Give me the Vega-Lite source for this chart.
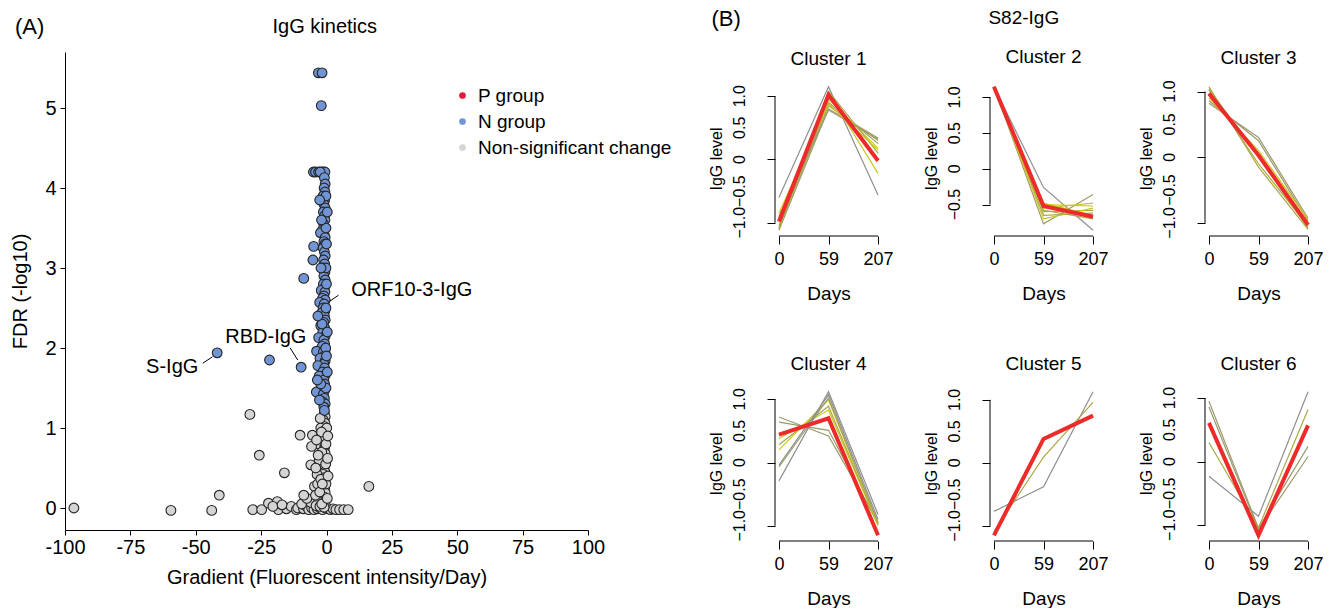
{
  "$schema": "https://vega.github.io/schema/vega-lite/v6.json",
  "background": "white",
  "padding": {"left": 10, "top": 7, "right": 0, "bottom": 0},
  "config": {
    "font": "Liberation Sans",
    "view": {"stroke": null},
    "axis": {"grid": false, "labelOverlap": false, "domainColor": "black", "tickColor": "black", "labelColor": "black", "titleColor": "black", "titleFontWeight": "normal", "labelFont": "Liberation Sans", "titleFont": "Liberation Sans"},
    "title": {"fontWeight": "normal", "color": "black", "font": "Liberation Sans"},
    "legend": {"labelFont": "Liberation Sans"}
  },
  "resolve": {"scale": {"color": "independent"}, "legend": {"color": "independent"}},
  "datasets": {
    "pts": [
      {"x": -96.6, "y": 0.0, "g": "U"}, {"x": -59.5, "y": -0.03, "g": "U"}, {"x": -43.9, "y": -0.03, "g": "U"}, {"x": -41, "y": 0.16, "g": "U"},
      {"x": -29.3, "y": 1.17, "g": "U"}, {"x": -25.7, "y": 0.66, "g": "U"}, {"x": -16.1, "y": 0.44, "g": "U"}, {"x": -10.1, "y": 0.91, "g": "U"},
      {"x": 16.2, "y": 0.27, "g": "U"}, {"x": -28.2, "y": -0.02, "g": "U"}, {"x": -24.8, "y": -0.02, "g": "U"}, {"x": -22.2, "y": 0.06, "g": "U"},
      {"x": -18.8, "y": 0.08, "g": "U"}, {"x": -18.4, "y": -0.02, "g": "U"}, {"x": -15.3, "y": -0.01, "g": "U"}, {"x": -13.5, "y": 0.02, "g": "U"},
      {"x": -11.5, "y": -0.02, "g": "U"}, {"x": -11, "y": 0.0, "g": "U"}, {"x": -8.8, "y": -0.01, "g": "U"}, {"x": -8, "y": 0.03, "g": "U"},
      {"x": -6.8, "y": -0.02, "g": "U"}, {"x": -5.7, "y": 0.0, "g": "U"}, {"x": -4.8, "y": -0.02, "g": "U"}, {"x": -3.5, "y": -0.01, "g": "U"},
      {"x": -2.5, "y": 0.0, "g": "U"}, {"x": -1.5, "y": -0.02, "g": "U"}, {"x": -0.4, "y": 0.0, "g": "U"}, {"x": 0.5, "y": -0.01, "g": "U"},
      {"x": 1.5, "y": -0.02, "g": "U"}, {"x": 2.5, "y": -0.01, "g": "U"}, {"x": 3.6, "y": -0.02, "g": "U"}, {"x": 5.0, "y": -0.02, "g": "U"},
      {"x": 6.6, "y": -0.02, "g": "U"}, {"x": 8.3, "y": -0.02, "g": "U"}, {"x": -20.5, "y": 0.02, "g": "U"}, {"x": -17, "y": 0.04, "g": "U"},
      {"x": -9.5, "y": 0.05, "g": "U"}, {"x": -6, "y": 0.07, "g": "U"}, {"x": -7.5, "y": 0.12, "g": "U"}, {"x": -8.7, "y": 0.16, "g": "U"},
      {"x": -4.6, "y": 0.27, "g": "U"},
      {"x": -0.8, "y": 1.18, "g": "U"}, {"x": -0.5, "y": 1.14, "g": "U"}, {"x": -1.2, "y": 1.1, "g": "U"}, {"x": -0.6, "y": 1.06, "g": "U"},
      {"x": -1.0, "y": 1.02, "g": "U"}, {"x": -2.2, "y": 1.0, "g": "U"}, {"x": -0.5, "y": 0.97, "g": "U"}, {"x": -0.9, "y": 0.94, "g": "U"},
      {"x": -5.4, "y": 0.91, "g": "U"}, {"x": -1.4, "y": 0.9, "g": "U"}, {"x": -0.6, "y": 0.86, "g": "U"}, {"x": -1.1, "y": 0.82, "g": "U"},
      {"x": -3.0, "y": 0.8, "g": "U"}, {"x": -5.7, "y": 0.77, "g": "U"}, {"x": -0.7, "y": 0.76, "g": "U"}, {"x": -1.0, "y": 0.72, "g": "U"},
      {"x": -0.5, "y": 0.68, "g": "U"}, {"x": -1.6, "y": 0.65, "g": "U"}, {"x": -0.8, "y": 0.62, "g": "U"}, {"x": -1.2, "y": 0.58, "g": "U"},
      {"x": -0.5, "y": 0.55, "g": "U"}, {"x": -6.0, "y": 0.54, "g": "U"}, {"x": -0.9, "y": 0.5, "g": "U"}, {"x": -2.5, "y": 0.48, "g": "U"},
      {"x": -0.6, "y": 0.45, "g": "U"}, {"x": -1.3, "y": 0.42, "g": "U"}, {"x": -0.8, "y": 0.38, "g": "U"}, {"x": -0.5, "y": 0.35, "g": "U"},
      {"x": -1.0, "y": 0.32, "g": "U"}, {"x": -3.4, "y": 0.3, "g": "U"}, {"x": -0.7, "y": 0.24, "g": "U"}, {"x": -1.5, "y": 0.22, "g": "U"},
      {"x": -0.5, "y": 0.19, "g": "U"}, {"x": -1.0, "y": 0.14, "g": "U"}, {"x": -2.0, "y": 0.12, "g": "U"}, {"x": -0.7, "y": 0.1, "g": "U"},
      {"x": -3.0, "y": 0.08, "g": "U"}, {"x": -1.2, "y": 0.06, "g": "U"}, {"x": -0.5, "y": 0.04, "g": "U"}, {"x": -4.0, "y": 0.03, "g": "U"},
      {"x": -2.5, "y": 0.02, "g": "U"}, {"x": -0.9, "y": 0.01, "g": "U"}, {"x": -2.0, "y": 0.88, "g": "U"}, {"x": -1.8, "y": 0.7, "g": "U"},
      {"x": -2.8, "y": 0.6, "g": "U"}, {"x": -3.6, "y": 0.42, "g": "U"}, {"x": -2.2, "y": 0.36, "g": "U"}, {"x": -4.2, "y": 0.16, "g": "U"},
      {"x": -1.8, "y": 0.05, "g": "U"}, {"x": -0.2, "y": 0.3, "g": "U"}, {"x": 0.3, "y": 0.12, "g": "U"}, {"x": -0.2, "y": 0.8, "g": "U"},
      {"x": 0.1, "y": 1.0, "g": "U"}, {"x": -0.3, "y": 0.55, "g": "U"}, {"x": -2.6, "y": 0.2, "g": "U"}, {"x": -1.9, "y": 0.95, "g": "U"},
      {"x": -3.2, "y": 0.66, "g": "U"}, {"x": -4.1, "y": 0.5, "g": "U"}, {"x": -3.8, "y": 0.85, "g": "U"}, {"x": 0.4, "y": 0.62, "g": "U"},
      {"x": 0.5, "y": 0.9, "g": "U"}, {"x": 0.6, "y": 0.4, "g": "U"}, {"x": -2.4, "y": 1.12, "g": "U"}, {"x": -1.6, "y": 0.3, "g": "U"},
      {"x": -41.8, "y": 1.94, "g": "N"}, {"x": -21.8, "y": 1.85, "g": "N"}, {"x": -9.7, "y": 1.76, "g": "N"},
      {"x": -3.1, "y": 5.44, "g": "N"}, {"x": -1.7, "y": 5.44, "g": "N"}, {"x": -2.0, "y": 5.03, "g": "N"},
      {"x": -5.0, "y": 4.2, "g": "N"}, {"x": -4.2, "y": 4.2, "g": "N"}, {"x": -3.0, "y": 4.2, "g": "N"}, {"x": -1.8, "y": 4.2, "g": "N"},
      {"x": -1.2, "y": 4.2, "g": "N"}, {"x": -0.6, "y": 4.2, "g": "N"}, {"x": -2.4, "y": 4.2, "g": "N"},
      {"x": -0.8, "y": 4.13, "g": "N"}, {"x": -0.5, "y": 4.05, "g": "N"}, {"x": -0.9, "y": 4.0, "g": "N"}, {"x": -0.6, "y": 3.95, "g": "N"},
      {"x": -1.3, "y": 3.9, "g": "N"}, {"x": -0.7, "y": 3.85, "g": "N"}, {"x": -1.0, "y": 3.8, "g": "N"}, {"x": -0.5, "y": 3.75, "g": "N"},
      {"x": -1.2, "y": 3.7, "g": "N"}, {"x": -0.8, "y": 3.65, "g": "N"}, {"x": -0.6, "y": 3.6, "g": "N"}, {"x": -1.1, "y": 3.55, "g": "N"},
      {"x": -0.7, "y": 3.5, "g": "N"}, {"x": -1.6, "y": 3.47, "g": "N"}, {"x": -0.9, "y": 3.42, "g": "N"}, {"x": -2.3, "y": 3.44, "g": "N"},
      {"x": -0.5, "y": 3.38, "g": "N"}, {"x": -1.0, "y": 3.33, "g": "N"}, {"x": -4.9, "y": 3.27, "g": "N"}, {"x": -0.6, "y": 3.3, "g": "N"},
      {"x": -1.3, "y": 3.25, "g": "N"}, {"x": -0.8, "y": 3.2, "g": "N"}, {"x": -0.5, "y": 3.15, "g": "N"}, {"x": -5.2, "y": 3.1, "g": "N"},
      {"x": -1.1, "y": 3.1, "g": "N"}, {"x": -0.7, "y": 3.05, "g": "N"}, {"x": -1.4, "y": 3.0, "g": "N"}, {"x": -0.6, "y": 2.95, "g": "N"},
      {"x": -1.0, "y": 2.9, "g": "N"}, {"x": -8.7, "y": 2.87, "g": "N"}, {"x": -0.5, "y": 2.85, "g": "N"}, {"x": -1.2, "y": 2.8, "g": "N"},
      {"x": -0.8, "y": 2.75, "g": "N"}, {"x": -2.0, "y": 2.72, "g": "N"}, {"x": -0.6, "y": 2.7, "g": "N"}, {"x": -1.0, "y": 2.65, "g": "N"},
      {"x": -1.5, "y": 2.62, "g": "N"}, {"x": -0.5, "y": 2.6, "g": "N"}, {"x": -2.6, "y": 2.57, "g": "N"}, {"x": -0.9, "y": 2.55, "g": "N"},
      {"x": -1.3, "y": 2.5, "g": "N"}, {"x": -0.6, "y": 2.47, "g": "N"}, {"x": -1.8, "y": 2.44, "g": "N"}, {"x": -0.8, "y": 2.4, "g": "N"},
      {"x": -0.5, "y": 2.35, "g": "N"}, {"x": -1.1, "y": 2.32, "g": "N"}, {"x": -2.2, "y": 2.28, "g": "N"}, {"x": -0.7, "y": 2.25, "g": "N"},
      {"x": -1.4, "y": 2.2, "g": "N"}, {"x": -0.5, "y": 2.15, "g": "N"}, {"x": -3.0, "y": 2.13, "g": "N"}, {"x": -1.0, "y": 2.1, "g": "N"},
      {"x": -0.7, "y": 2.05, "g": "N"}, {"x": -1.6, "y": 2.02, "g": "N"}, {"x": -0.5, "y": 1.98, "g": "N"}, {"x": -3.8, "y": 1.96, "g": "N"},
      {"x": -1.2, "y": 1.95, "g": "N"}, {"x": -0.8, "y": 1.9, "g": "N"}, {"x": -2.5, "y": 1.87, "g": "N"}, {"x": -0.5, "y": 1.84, "g": "N"},
      {"x": -1.0, "y": 1.8, "g": "N"}, {"x": -3.3, "y": 1.78, "g": "N"}, {"x": -0.7, "y": 1.75, "g": "N"}, {"x": -1.5, "y": 1.7, "g": "N"},
      {"x": -0.5, "y": 1.66, "g": "N"}, {"x": -2.8, "y": 1.65, "g": "N"}, {"x": -1.0, "y": 1.6, "g": "N"}, {"x": -0.7, "y": 1.55, "g": "N"},
      {"x": -1.9, "y": 1.52, "g": "N"}, {"x": -3.9, "y": 1.45, "g": "N"}, {"x": -0.6, "y": 1.48, "g": "N"}, {"x": -1.2, "y": 1.42, "g": "N"},
      {"x": -0.8, "y": 1.37, "g": "N"}, {"x": -1.6, "y": 1.33, "g": "N"}, {"x": -0.5, "y": 1.3, "g": "N"}, {"x": -1.0, "y": 1.26, "g": "N"},
      {"x": -0.8, "y": 1.22, "g": "N"}, {"x": -0.2, "y": 3.9, "g": "N"}, {"x": -0.2, "y": 3.5, "g": "N"}, {"x": -0.2, "y": 3.0, "g": "N"},
      {"x": -0.2, "y": 2.5, "g": "N"}, {"x": -0.3, "y": 2.0, "g": "N"}, {"x": -0.2, "y": 1.5, "g": "N"}, {"x": 0.0, "y": 2.8, "g": "N"},
      {"x": 0.0, "y": 3.3, "g": "N"}, {"x": 0.0, "y": 1.9, "g": "N"}, {"x": -1.9, "y": 3.6, "g": "N"}, {"x": -2.1, "y": 3.0, "g": "N"},
      {"x": -1.7, "y": 2.3, "g": "N"}, {"x": -2.2, "y": 1.55, "g": "N"}, {"x": -2.7, "y": 1.35, "g": "N"},
      {"x": 0.3, "y": 3.7, "g": "N"}, {"x": 0.3, "y": 2.2, "g": "N"}, {"x": 0.3, "y": 1.7, "g": "N"}, {"x": -2.6, "y": 3.85, "g": "N"},
      {"x": -3.3, "y": 2.4, "g": "N"}, {"x": -3.5, "y": 1.6, "g": "N"}
    ],
    "labels": [
      {"name": "S-IgG", "x": -59, "y": 1.76},
      {"name": "RBD-IgG", "x": -23.2, "y": 2.14},
      {"name": "ORF10-3-IgG", "x": 32.6, "y": 2.72}
    ],
    "leaders": [
      {"x": -47.3, "y": 1.81, "x2": -43.6, "y2": 1.89},
      {"x": -13.9, "y": 2.0, "x2": -11.0, "y2": 1.85},
      {"x": 4.6, "y": 2.66, "x2": 1.0, "y2": 2.58}
    ],
    "yticks": [
      {"v": -1, "lab": "−1.0"}, {"v": -0.5, "lab": "−0.5"}, {"v": 0, "lab": "0"}, {"v": 0.5, "lab": "0.5"}, {"v": 1, "lab": "1.0"}
    ],
    "lines": [
      {"c":1,"id":1,"m":"a","t":1,"v":-0.60},{"c":1,"id":1,"m":"a","t":2,"v":1.15},{"c":1,"id":1,"m":"a","t":3,"v":-0.56},
      {"c":1,"id":2,"m":"b","t":1,"v":-1.12},{"c":1,"id":2,"m":"b","t":2,"v":0.80},{"c":1,"id":2,"m":"b","t":3,"v":0.34},
      {"c":1,"id":3,"m":"c","t":1,"v":-1.08},{"c":1,"id":3,"m":"c","t":2,"v":0.85},{"c":1,"id":3,"m":"c","t":3,"v":0.30},
      {"c":1,"id":4,"m":"b","t":1,"v":-1.05},{"c":1,"id":4,"m":"b","t":2,"v":0.90},{"c":1,"id":4,"m":"b","t":3,"v":0.25},
      {"c":1,"id":5,"m":"d","t":1,"v":-1.00},{"c":1,"id":5,"m":"d","t":2,"v":0.95},{"c":1,"id":5,"m":"d","t":3,"v":0.18},
      {"c":1,"id":6,"m":"d","t":1,"v":-0.95},{"c":1,"id":6,"m":"d","t":2,"v":1.05},{"c":1,"id":6,"m":"d","t":3,"v":-0.22},
      {"c":1,"id":7,"m":"b","t":1,"v":-0.90},{"c":1,"id":7,"m":"b","t":2,"v":0.78},{"c":1,"id":7,"m":"b","t":3,"v":0.32},
      {"c":1,"id":8,"m":"c","t":1,"v":-1.10},{"c":1,"id":8,"m":"c","t":2,"v":1.08},{"c":1,"id":8,"m":"c","t":3,"v":0.10},
      {"c":1,"id":9,"m":"d","t":1,"v":-0.85},{"c":1,"id":9,"m":"d","t":2,"v":0.88},{"c":1,"id":9,"m":"d","t":3,"v":0.15},
      {"c":2,"id":1,"m":"a","t":1,"v":1.15},{"c":2,"id":1,"m":"a","t":2,"v":-0.26},{"c":2,"id":1,"m":"a","t":3,"v":-0.86},
      {"c":2,"id":2,"m":"b","t":1,"v":1.15},{"c":2,"id":2,"m":"b","t":2,"v":-0.77},{"c":2,"id":2,"m":"b","t":3,"v":-0.36},
      {"c":2,"id":3,"m":"d","t":1,"v":1.14},{"c":2,"id":3,"m":"d","t":2,"v":-0.50},{"c":2,"id":3,"m":"d","t":3,"v":-0.52},
      {"c":2,"id":4,"m":"d","t":1,"v":1.15},{"c":2,"id":4,"m":"d","t":2,"v":-0.55},{"c":2,"id":4,"m":"d","t":3,"v":-0.48},
      {"c":2,"id":5,"m":"c","t":1,"v":1.15},{"c":2,"id":5,"m":"c","t":2,"v":-0.60},{"c":2,"id":5,"m":"c","t":3,"v":-0.58},
      {"c":2,"id":6,"m":"c","t":1,"v":1.14},{"c":2,"id":6,"m":"c","t":2,"v":-0.65},{"c":2,"id":6,"m":"c","t":3,"v":-0.62},
      {"c":2,"id":7,"m":"d","t":1,"v":1.15},{"c":2,"id":7,"m":"d","t":2,"v":-0.70},{"c":2,"id":7,"m":"d","t":3,"v":-0.55},
      {"c":2,"id":8,"m":"c","t":1,"v":1.13},{"c":2,"id":8,"m":"c","t":2,"v":-0.58},{"c":2,"id":8,"m":"c","t":3,"v":-0.70},
      {"c":2,"id":9,"m":"d","t":1,"v":1.15},{"c":2,"id":9,"m":"d","t":2,"v":-0.48},{"c":2,"id":9,"m":"d","t":3,"v":-0.65},
      {"c":3,"id":1,"m":"b","t":1,"v":0.82},{"c":3,"id":1,"m":"b","t":2,"v":0.30},{"c":3,"id":1,"m":"b","t":3,"v":-0.93},
      {"c":3,"id":2,"m":"b","t":1,"v":0.86},{"c":3,"id":2,"m":"b","t":2,"v":0.25},{"c":3,"id":2,"m":"b","t":3,"v":-0.97},
      {"c":3,"id":3,"m":"c","t":1,"v":1.07},{"c":3,"id":3,"m":"c","t":2,"v":-0.15},{"c":3,"id":3,"m":"c","t":3,"v":-1.10},
      {"c":3,"id":4,"m":"c","t":1,"v":1.02},{"c":3,"id":4,"m":"c","t":2,"v":-0.10},{"c":3,"id":4,"m":"c","t":3,"v":-1.05},
      {"c":3,"id":5,"m":"d","t":1,"v":0.95},{"c":3,"id":5,"m":"d","t":2,"v":0.05},{"c":3,"id":5,"m":"d","t":3,"v":-1.00},
      {"c":3,"id":6,"m":"d","t":1,"v":0.90},{"c":3,"id":6,"m":"d","t":2,"v":0.10},{"c":3,"id":6,"m":"d","t":3,"v":-0.95},
      {"c":3,"id":7,"m":"c","t":1,"v":1.04},{"c":3,"id":7,"m":"c","t":2,"v":0.00},{"c":3,"id":7,"m":"c","t":3,"v":-1.08},
      {"c":4,"id":1,"m":"b","t":1,"v":0.72},{"c":4,"id":1,"m":"b","t":2,"v":0.42},{"c":4,"id":1,"m":"b","t":3,"v":-0.95},
      {"c":4,"id":2,"m":"b","t":1,"v":0.64},{"c":4,"id":2,"m":"b","t":2,"v":0.51},{"c":4,"id":2,"m":"b","t":3,"v":-0.97},
      {"c":4,"id":3,"m":"d","t":1,"v":0.38},{"c":4,"id":3,"m":"d","t":2,"v":0.83},{"c":4,"id":3,"m":"d","t":3,"v":-1.00},
      {"c":4,"id":4,"m":"c","t":1,"v":0.28},{"c":4,"id":4,"m":"c","t":2,"v":0.89},{"c":4,"id":4,"m":"c","t":3,"v":-0.98},
      {"c":4,"id":5,"m":"d","t":1,"v":0.20},{"c":4,"id":5,"m":"d","t":2,"v":0.99},{"c":4,"id":5,"m":"d","t":3,"v":-0.97},
      {"c":4,"id":6,"m":"a","t":1,"v":-0.04},{"c":4,"id":6,"m":"a","t":2,"v":1.07},{"c":4,"id":6,"m":"a","t":3,"v":-0.90},
      {"c":4,"id":7,"m":"b","t":1,"v":-0.07},{"c":4,"id":7,"m":"b","t":2,"v":1.02},{"c":4,"id":7,"m":"b","t":3,"v":-0.95},
      {"c":4,"id":8,"m":"a","t":1,"v":-0.29},{"c":4,"id":8,"m":"a","t":2,"v":1.12},{"c":4,"id":8,"m":"a","t":3,"v":-0.82},
      {"c":5,"id":1,"m":"a","t":1,"v":-0.77},{"c":5,"id":1,"m":"a","t":2,"v":-0.38},{"c":5,"id":1,"m":"a","t":3,"v":1.13},
      {"c":5,"id":2,"m":"c","t":1,"v":-1.09},{"c":5,"id":2,"m":"c","t":2,"v":0.09},{"c":5,"id":2,"m":"c","t":3,"v":0.96},
      {"c":6,"id":1,"m":"a","t":1,"v":-0.23},{"c":6,"id":1,"m":"a","t":2,"v":-0.86},{"c":6,"id":1,"m":"a","t":3,"v":1.10},
      {"c":6,"id":2,"m":"b","t":1,"v":0.95},{"c":6,"id":2,"m":"b","t":2,"v":-1.05},{"c":6,"id":2,"m":"b","t":3,"v":0.24},
      {"c":6,"id":3,"m":"b","t":1,"v":0.86},{"c":6,"id":3,"m":"b","t":2,"v":-1.07},{"c":6,"id":3,"m":"b","t":3,"v":0.08},
      {"c":6,"id":4,"m":"c","t":1,"v":0.30},{"c":6,"id":4,"m":"c","t":2,"v":-1.04},{"c":6,"id":4,"m":"c","t":3,"v":0.82}
    ],
    "cent": [
      {"c":1,"t":1,"v":-0.98},{"c":1,"t":2,"v":1.02},{"c":1,"t":3,"v":-0.02},
      {"c":2,"t":1,"v":1.15},{"c":2,"t":2,"v":-0.52},{"c":2,"t":3,"v":-0.67},
      {"c":3,"t":1,"v":0.97},{"c":3,"t":2,"v":0.03},{"c":3,"t":3,"v":-1.03},
      {"c":4,"t":1,"v":0.44},{"c":4,"t":2,"v":0.70},{"c":4,"t":3,"v":-1.15},
      {"c":5,"t":1,"v":-1.15},{"c":5,"t":2,"v":0.38},{"c":5,"t":3,"v":0.75},
      {"c":6,"t":1,"v":0.61},{"c":6,"t":2,"v":-1.16},{"c":6,"t":3,"v":0.57}
    ]
  },
  "hconcat": [
    {
      "title": {"text": "(A)", "anchor": "start", "frame": "bounds", "fontSize": 22, "offset": -22, "dx": 4},
      "hconcat": [
        {
          "title": {"text": "IgG kinetics", "fontSize": 20, "offset": 15, "anchor": "middle", "frame": "bounds", "dx": 17},
          "hconcat": [
            {
              "width": 523,
              "height": 478,
              "layer": [
                {
                  "data": {"name": "pts"},
                  "mark": {"type": "point", "shape": "circle", "filled": true, "stroke": "#262626", "strokeWidth": 1.1, "size": 95, "opacity": 1},
                  "encoding": {
                    "x": {"field": "x", "type": "quantitative", "scale": {"domain": [-100, 100], "nice": false, "zero": false},
                      "axis": {"title": "Gradient (Fluorescent intensity/Day)", "values": [-100, -75, -50, -25, 0, 25, 50, 75, 100], "labelExpr": "datum.value < 0 ? '-' + format(-datum.value, 'd') : format(datum.value, 'd')", "tickSize": 5, "labelPadding": 2, "labelFontSize": 20, "titleFontSize": 20, "titlePadding": 10, "labelFlush": false, "labelOverlap": false}},
                    "y": {"field": "y", "type": "quantitative", "scale": {"domain": [-0.275, 5.7], "nice": false, "zero": false},
                      "axis": {"title": "FDR (-log10)", "values": [0, 1, 2, 3, 4, 5], "format": "d", "tickSize": 5, "labelPadding": 4, "labelFontSize": 20, "titleFontSize": 20, "titlePadding": 14}},
                    "color": {"field": "g", "type": "nominal",
                      "scale": {"domain": ["P", "N", "U"], "range": ["#e41a3a", "#7094d4", "#d4d4d4"]},
                      "legend": {"title": null, "orient": "none", "legendX": 388, "legendY": 34, "padding": 0, "labelFontSize": 19, "labelLimit": 400, "rowPadding": 6, "symbolSize": 45, "symbolType": "circle", "symbolStrokeWidth": 0, "symbolOpacity": 1, "labelOffset": 6,
                        "labelExpr": "datum.value == 'P' ? 'P group' : datum.value == 'N' ? 'N group' : 'Non-significant change'"}}
                  }
                },
                {
                  "data": {"name": "leaders"},
                  "mark": {"type": "rule", "color": "black", "strokeWidth": 1},
                  "encoding": {
                    "x": {"field": "x", "type": "quantitative"},
                    "y": {"field": "y", "type": "quantitative"},
                    "x2": {"field": "x2"},
                    "y2": {"field": "y2"}
                  }
                },
                {
                  "data": {"name": "labels"},
                  "mark": {"type": "text", "fontSize": 20, "color": "black", "font": "Liberation Sans"},
                  "encoding": {
                    "x": {"field": "x", "type": "quantitative"},
                    "y": {"field": "y", "type": "quantitative"},
                    "text": {"field": "name"}
                  }
                }
              ]
            }
          ]
        }
      ]
    },
    {
      "title": {"text": "(B)", "anchor": "start", "frame": "bounds", "fontSize": 22, "offset": -22, "dx": 3},
      "vconcat": [
        {
          "title": {"text": "S82-IgG", "fontSize": 19, "offset": 20, "anchor": "middle", "frame": "bounds", "dx": 8},
          "bounds": "flush",
          "spacing": 28,
          "vconcat": [
            {"width": 537, "height": 1, "data": {"values": [{}]}, "mark": {"type": "rule", "opacity": 0, "strokeOpacity": 0}, "encoding": {}},
            {
              "columns": 3,
              "spacing": {"row": 150, "column": 108},
              "bounds": "flush",
              "concat": [
                {"width": 107, "height": 155, "title": {"text": "Cluster 1", "fontSize": 19, "offset": 12},
                  "layer": [
                    {"data": {"name": "lines"}, "transform": [{"filter": "datum.c == 1"}], "mark": {"type": "line", "strokeWidth": 1.2},
                      "encoding": {
                        "x": {"field": "t", "type": "quantitative", "scale": {"domain": [0.92, 3.08], "nice": false, "zero": false},
                          "axis": {"title": "Days", "values": [1, 2, 3], "labelExpr": "datum.value == 1 ? '0' : datum.value == 2 ? '59' : '207'", "domain": false, "tickSize": 8, "labelPadding": 6, "labelFontSize": 18, "titleFontSize": 19, "titlePadding": 16, "labelFlush": false, "labelOverlap": false, "labelAngle": 0}},
                        "y": {"field": "v", "type": "quantitative", "scale": {"domain": [-1.21, 1.24], "nice": false, "zero": false},
                          "axis": {"title": "IgG level", "values": [-1, -0.5, 0, 0.5, 1], "labels": false, "domain": false, "tickSize": 8, "titleFontSize": 16, "titlePadding": 42}},
                        "color": {"field": "m", "type": "nominal", "scale": {"domain": ["a", "b", "c", "d"], "range": ["#8f8f8f", "#9d9b6c", "#aaa845", "#c9c81e"]}, "legend": null},
                        "detail": {"field": "id"}}},
                    {"data": {"name": "cent"}, "transform": [{"filter": "datum.c == 1"}], "mark": {"type": "line", "strokeWidth": 4, "color": "#ee2a2a"},
                      "encoding": {"x": {"field": "t", "type": "quantitative"}, "y": {"field": "v", "type": "quantitative"}}},
                    {"data": {"name": "yticks"}, "mark": {"type": "text", "angle": 270, "align": "center", "baseline": "bottom", "dy": -27, "fontSize": 16, "font": "Liberation Sans", "color": "black"},
                      "encoding": {"x": {"datum": 0.92}, "y": {"field": "v", "type": "quantitative"}, "text": {"field": "lab"}}},
                    {"data": {"values": [{}]}, "mark": {"type": "rule", "color": "black", "strokeWidth": 1}, "encoding": {"x": {"datum": 0.92}, "y": {"datum": -1}, "y2": {"datum": 1}}},
                    {"data": {"values": [{}]}, "mark": {"type": "rule", "color": "black", "strokeWidth": 1}, "encoding": {"y": {"datum": -1.21}, "x": {"datum": 1}, "x2": {"datum": 3}}}
                  ]},
                {"width": 107, "height": 155, "title": {"text": "Cluster 2", "fontSize": 19, "offset": 12},
                  "layer": [
                    {"data": {"name": "lines"}, "transform": [{"filter": "datum.c == 2"}], "mark": {"type": "line", "strokeWidth": 1.2},
                      "encoding": {
                        "x": {"field": "t", "type": "quantitative", "scale": {"domain": [0.92, 3.08], "nice": false, "zero": false},
                          "axis": {"title": "Days", "values": [1, 2, 3], "labelExpr": "datum.value == 1 ? '0' : datum.value == 2 ? '59' : '207'", "domain": false, "tickSize": 8, "labelPadding": 6, "labelFontSize": 18, "titleFontSize": 19, "titlePadding": 16, "labelFlush": false, "labelOverlap": false, "labelAngle": 0}},
                        "y": {"field": "v", "type": "quantitative", "scale": {"domain": [-0.94, 1.23], "nice": false, "zero": false},
                          "axis": {"title": "IgG level", "values": [-0.5, 0, 0.5, 1], "labels": false, "domain": false, "tickSize": 8, "titleFontSize": 16, "titlePadding": 42}},
                        "color": {"field": "m", "type": "nominal", "scale": {"domain": ["a", "b", "c", "d"], "range": ["#8f8f8f", "#9d9b6c", "#aaa845", "#c9c81e"]}, "legend": null},
                        "detail": {"field": "id"}}},
                    {"data": {"name": "cent"}, "transform": [{"filter": "datum.c == 2"}], "mark": {"type": "line", "strokeWidth": 4, "color": "#ee2a2a"},
                      "encoding": {"x": {"field": "t", "type": "quantitative"}, "y": {"field": "v", "type": "quantitative"}}},
                    {"data": {"name": "yticks"}, "transform": [{"filter": "datum.v > -0.9"}], "mark": {"type": "text", "angle": 270, "align": "center", "baseline": "bottom", "dy": -27, "fontSize": 16, "font": "Liberation Sans", "color": "black"},
                      "encoding": {"x": {"datum": 0.92}, "y": {"field": "v", "type": "quantitative"}, "text": {"field": "lab"}}},
                    {"data": {"values": [{}]}, "mark": {"type": "rule", "color": "black", "strokeWidth": 1}, "encoding": {"x": {"datum": 0.92}, "y": {"datum": -0.5}, "y2": {"datum": 1}}},
                    {"data": {"values": [{}]}, "mark": {"type": "rule", "color": "black", "strokeWidth": 1}, "encoding": {"y": {"datum": -0.94}, "x": {"datum": 1}, "x2": {"datum": 3}}}
                  ]},
                {"width": 107, "height": 155, "title": {"text": "Cluster 3", "fontSize": 19, "offset": 12},
                  "layer": [
                    {"data": {"name": "lines"}, "transform": [{"filter": "datum.c == 3"}], "mark": {"type": "line", "strokeWidth": 1.2},
                      "encoding": {
                        "x": {"field": "t", "type": "quantitative", "scale": {"domain": [0.92, 3.08], "nice": false, "zero": false},
                          "axis": {"title": "Days", "values": [1, 2, 3], "labelExpr": "datum.value == 1 ? '0' : datum.value == 2 ? '59' : '207'", "domain": false, "tickSize": 8, "labelPadding": 6, "labelFontSize": 18, "titleFontSize": 19, "titlePadding": 16, "labelFlush": false, "labelOverlap": false, "labelAngle": 0}},
                        "y": {"field": "v", "type": "quantitative", "scale": {"domain": [-1.2, 1.16], "nice": false, "zero": false},
                          "axis": {"title": "IgG level", "values": [-1, -0.5, 0, 0.5, 1], "labels": false, "domain": false, "tickSize": 8, "titleFontSize": 16, "titlePadding": 42}},
                        "color": {"field": "m", "type": "nominal", "scale": {"domain": ["a", "b", "c", "d"], "range": ["#8f8f8f", "#9d9b6c", "#aaa845", "#c9c81e"]}, "legend": null},
                        "detail": {"field": "id"}}},
                    {"data": {"name": "cent"}, "transform": [{"filter": "datum.c == 3"}], "mark": {"type": "line", "strokeWidth": 4, "color": "#ee2a2a"},
                      "encoding": {"x": {"field": "t", "type": "quantitative"}, "y": {"field": "v", "type": "quantitative"}}},
                    {"data": {"name": "yticks"}, "mark": {"type": "text", "angle": 270, "align": "center", "baseline": "bottom", "dy": -27, "fontSize": 16, "font": "Liberation Sans", "color": "black"},
                      "encoding": {"x": {"datum": 0.92}, "y": {"field": "v", "type": "quantitative"}, "text": {"field": "lab"}}},
                    {"data": {"values": [{}]}, "mark": {"type": "rule", "color": "black", "strokeWidth": 1}, "encoding": {"x": {"datum": 0.92}, "y": {"datum": -1}, "y2": {"datum": 1}}},
                    {"data": {"values": [{}]}, "mark": {"type": "rule", "color": "black", "strokeWidth": 1}, "encoding": {"y": {"datum": -1.2}, "x": {"datum": 1}, "x2": {"datum": 3}}}
                  ]},
                {"width": 107, "height": 155, "title": {"text": "Cluster 4", "fontSize": 19, "offset": 12},
                  "layer": [
                    {"data": {"name": "lines"}, "transform": [{"filter": "datum.c == 4"}], "mark": {"type": "line", "strokeWidth": 1.2},
                      "encoding": {
                        "x": {"field": "t", "type": "quantitative", "scale": {"domain": [0.92, 3.08], "nice": false, "zero": false},
                          "axis": {"title": "Days", "values": [1, 2, 3], "labelExpr": "datum.value == 1 ? '0' : datum.value == 2 ? '59' : '207'", "domain": false, "tickSize": 8, "labelPadding": 6, "labelFontSize": 18, "titleFontSize": 19, "titlePadding": 16, "labelFlush": false, "labelOverlap": false, "labelAngle": 0}},
                        "y": {"field": "v", "type": "quantitative", "scale": {"domain": [-1.24, 1.21], "nice": false, "zero": false},
                          "axis": {"title": "IgG level", "values": [-1, -0.5, 0, 0.5, 1], "labels": false, "domain": false, "tickSize": 8, "titleFontSize": 16, "titlePadding": 42}},
                        "color": {"field": "m", "type": "nominal", "scale": {"domain": ["a", "b", "c", "d"], "range": ["#8f8f8f", "#9d9b6c", "#aaa845", "#c9c81e"]}, "legend": null},
                        "detail": {"field": "id"}}},
                    {"data": {"name": "cent"}, "transform": [{"filter": "datum.c == 4"}], "mark": {"type": "line", "strokeWidth": 4, "color": "#ee2a2a"},
                      "encoding": {"x": {"field": "t", "type": "quantitative"}, "y": {"field": "v", "type": "quantitative"}}},
                    {"data": {"name": "yticks"}, "mark": {"type": "text", "angle": 270, "align": "center", "baseline": "bottom", "dy": -27, "fontSize": 16, "font": "Liberation Sans", "color": "black"},
                      "encoding": {"x": {"datum": 0.92}, "y": {"field": "v", "type": "quantitative"}, "text": {"field": "lab"}}},
                    {"data": {"values": [{}]}, "mark": {"type": "rule", "color": "black", "strokeWidth": 1}, "encoding": {"x": {"datum": 0.92}, "y": {"datum": -1}, "y2": {"datum": 1}}},
                    {"data": {"values": [{}]}, "mark": {"type": "rule", "color": "black", "strokeWidth": 1}, "encoding": {"y": {"datum": -1.24}, "x": {"datum": 1}, "x2": {"datum": 3}}}
                  ]},
                {"width": 107, "height": 155, "title": {"text": "Cluster 5", "fontSize": 19, "offset": 12},
                  "layer": [
                    {"data": {"name": "lines"}, "transform": [{"filter": "datum.c == 5"}], "mark": {"type": "line", "strokeWidth": 1.2},
                      "encoding": {
                        "x": {"field": "t", "type": "quantitative", "scale": {"domain": [0.92, 3.08], "nice": false, "zero": false},
                          "axis": {"title": "Days", "values": [1, 2, 3], "labelExpr": "datum.value == 1 ? '0' : datum.value == 2 ? '59' : '207'", "domain": false, "tickSize": 8, "labelPadding": 6, "labelFontSize": 18, "titleFontSize": 19, "titlePadding": 16, "labelFlush": false, "labelOverlap": false, "labelAngle": 0}},
                        "y": {"field": "v", "type": "quantitative", "scale": {"domain": [-1.24, 1.22], "nice": false, "zero": false},
                          "axis": {"title": "IgG level", "values": [-1, -0.5, 0, 0.5, 1], "labels": false, "domain": false, "tickSize": 8, "titleFontSize": 16, "titlePadding": 42}},
                        "color": {"field": "m", "type": "nominal", "scale": {"domain": ["a", "b", "c", "d"], "range": ["#8f8f8f", "#9d9b6c", "#aaa845", "#c9c81e"]}, "legend": null},
                        "detail": {"field": "id"}}},
                    {"data": {"name": "cent"}, "transform": [{"filter": "datum.c == 5"}], "mark": {"type": "line", "strokeWidth": 4, "color": "#ee2a2a"},
                      "encoding": {"x": {"field": "t", "type": "quantitative"}, "y": {"field": "v", "type": "quantitative"}}},
                    {"data": {"name": "yticks"}, "mark": {"type": "text", "angle": 270, "align": "center", "baseline": "bottom", "dy": -27, "fontSize": 16, "font": "Liberation Sans", "color": "black"},
                      "encoding": {"x": {"datum": 0.92}, "y": {"field": "v", "type": "quantitative"}, "text": {"field": "lab"}}},
                    {"data": {"values": [{}]}, "mark": {"type": "rule", "color": "black", "strokeWidth": 1}, "encoding": {"x": {"datum": 0.92}, "y": {"datum": -1}, "y2": {"datum": 1}}},
                    {"data": {"values": [{}]}, "mark": {"type": "rule", "color": "black", "strokeWidth": 1}, "encoding": {"y": {"datum": -1.24}, "x": {"datum": 1}, "x2": {"datum": 3}}}
                  ]},
                {"width": 107, "height": 155, "title": {"text": "Cluster 6", "fontSize": 19, "offset": 12},
                  "layer": [
                    {"data": {"name": "lines"}, "transform": [{"filter": "datum.c == 6"}], "mark": {"type": "line", "strokeWidth": 1.2},
                      "encoding": {
                        "x": {"field": "t", "type": "quantitative", "scale": {"domain": [0.92, 3.08], "nice": false, "zero": false},
                          "axis": {"title": "Days", "values": [1, 2, 3], "labelExpr": "datum.value == 1 ? '0' : datum.value == 2 ? '59' : '207'", "domain": false, "tickSize": 8, "labelPadding": 6, "labelFontSize": 18, "titleFontSize": 19, "titlePadding": 16, "labelFlush": false, "labelOverlap": false, "labelAngle": 0}},
                        "y": {"field": "v", "type": "quantitative", "scale": {"domain": [-1.25, 1.19], "nice": false, "zero": false},
                          "axis": {"title": "IgG level", "values": [-1, -0.5, 0, 0.5, 1], "labels": false, "domain": false, "tickSize": 8, "titleFontSize": 16, "titlePadding": 42}},
                        "color": {"field": "m", "type": "nominal", "scale": {"domain": ["a", "b", "c", "d"], "range": ["#8f8f8f", "#9d9b6c", "#aaa845", "#c9c81e"]}, "legend": null},
                        "detail": {"field": "id"}}},
                    {"data": {"name": "cent"}, "transform": [{"filter": "datum.c == 6"}], "mark": {"type": "line", "strokeWidth": 4, "color": "#ee2a2a"},
                      "encoding": {"x": {"field": "t", "type": "quantitative"}, "y": {"field": "v", "type": "quantitative"}}},
                    {"data": {"name": "yticks"}, "mark": {"type": "text", "angle": 270, "align": "center", "baseline": "bottom", "dy": -27, "fontSize": 16, "font": "Liberation Sans", "color": "black"},
                      "encoding": {"x": {"datum": 0.92}, "y": {"field": "v", "type": "quantitative"}, "text": {"field": "lab"}}},
                    {"data": {"values": [{}]}, "mark": {"type": "rule", "color": "black", "strokeWidth": 1}, "encoding": {"x": {"datum": 0.92}, "y": {"datum": -1}, "y2": {"datum": 1}}},
                    {"data": {"values": [{}]}, "mark": {"type": "rule", "color": "black", "strokeWidth": 1}, "encoding": {"y": {"datum": -1.25}, "x": {"datum": 1}, "x2": {"datum": 3}}}
                  ]}
              ]
            }
          ]
        }
      ]
    }
  ],
  "spacing": 36
}
